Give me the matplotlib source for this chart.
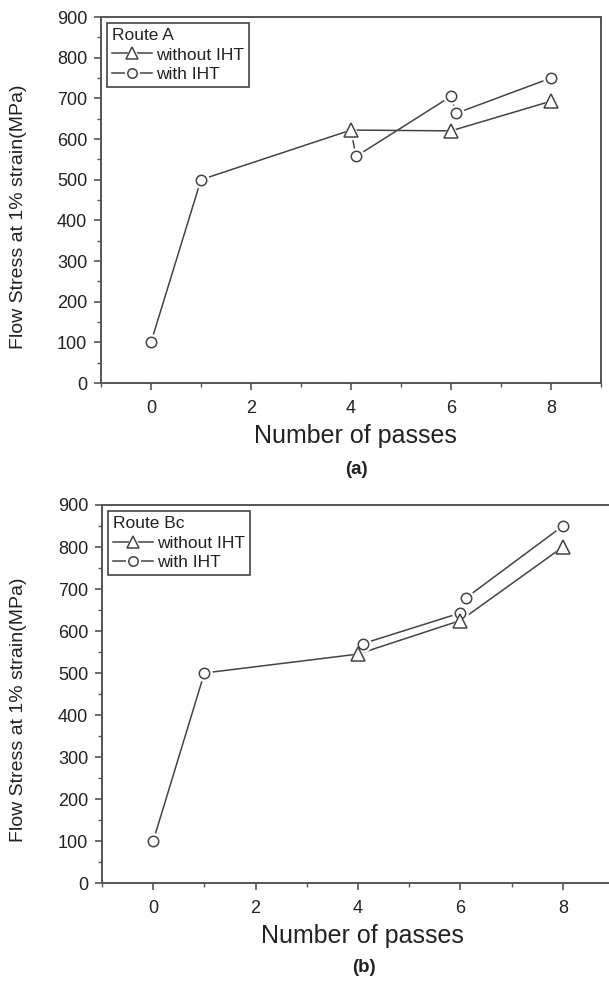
import matplotlib
matplotlib.use("Agg")
import matplotlib.pyplot as plt
from matplotlib.lines import Line2D
from matplotlib.ticker import MultipleLocator
from matplotlib.legend_handler import HandlerTuple

plt.rcParams['font.family'] = ['Liberation Sans', 'DejaVu Sans']

# Route A
a_with_x = [0, 1, 4, 4.1, 6, 6.1, 8]
a_with_y = [100, 500, 622, 557, 705, 663, 750]
a_without_x = [4, 6, 8]
a_without_y = [622, 620, 693]

# Route Bc
b_with_x = [0, 1, 4, 4.1, 6, 6.1, 8]
b_with_y = [100, 500, 545, 570, 643, 678, 850]
b_without_x = [4, 6, 8]
b_without_y = [545, 625, 800]

route_titles = ["Route A", "Route Bc"]
panel_labels = ["(a)", "(b)"]
series_labels = ["without IHT", "with IHT"]
xticks = [0, 2, 4, 6, 8]
yticks = [0, 100, 200, 300, 400, 500, 600, 700, 800, 900]

LC = "#444444"
TC = "#222222"

fig = plt.figure(figsize=(6.09, 9.81), dpi=100)
W, H = 609, 981

def px_axes(l, r, t, b):
    return fig.add_axes([l / W, 1 - b / H, (r - l) / W, (b - t) / H])

ax1 = px_axes(101, 601, 17, 383)
ax2 = px_axes(102, 614, 505, 883)

def draw(ax, wx, wy, nx, ny, title):
    mk_idx = [0, 1, 3, 4, 5, 6]
    ax.plot(wx, wy, color=LC, lw=1.1, zorder=2)
    ax.plot(nx, ny, color=LC, lw=1.1, zorder=2)
    # white halo to give gaps
    ax.plot([wx[i] for i in mk_idx], [wy[i] for i in mk_idx], ls='none', marker='o',
            ms=11, mfc='white', mec='white', zorder=3)
    ax.plot(nx, ny, ls='none', marker='^', ms=13, mfc='white', mec='white', zorder=3)
    ax.plot([wx[i] for i in mk_idx], [wy[i] for i in mk_idx], ls='none', marker='o',
            ms=7.5, mfc='white', mec=LC, mew=1.1, zorder=4)
    ax.plot(nx, ny, ls='none', marker='^', ms=9.5, mfc='white', mec=LC, mew=1.1, zorder=5)

    ax.set_xlim(-1, 9)
    ax.set_ylim(0, 900)
    ax.set_xticks(xticks)
    ax.set_yticks(yticks)
    ax.xaxis.set_minor_locator(MultipleLocator(1))
    ax.yaxis.set_minor_locator(MultipleLocator(50))
    for s in ax.spines.values():
        s.set_color("#555555")
        s.set_linewidth(1.4)
    ax.tick_params(which='major', direction='out', length=5, width=1.2, color="#555555",
                   labelsize=13, labelcolor=TC)
    ax.tick_params(which='minor', direction='out', length=3, width=1.0, color="#555555")
    ax.tick_params(axis='x', which='major', pad=7)
    ax.tick_params(axis='y', which='major', pad=5)

    def hnd(m, ms):
        return (Line2D([], [], color=LC, lw=1.1),
                Line2D([], [], ls='none', marker=m, ms=ms + 3, mfc='white', mec='white'),
                Line2D([], [], ls='none', marker=m, ms=ms, mfc='white', mec=LC, mew=1.1))
    handles = [hnd('^', 8.5), hnd('o', 6.8)]
    leg = ax.legend(handles, series_labels, title=title, loc='upper left',
                    bbox_to_anchor=(0.012, 0.984), borderaxespad=0, fancybox=False,
                    edgecolor="#444444", framealpha=1, fontsize=12.5, title_fontsize=12.5,
                    handlelength=2.3, handletextpad=0.2, borderpad=0.3, labelspacing=0.25,
                    alignment='left',
                    handler_map={tuple: HandlerTuple(ndivide=1, pad=0)})
    leg.get_frame().set_linewidth(1.2)
    leg.get_title().set_color(TC)
    for t in leg.get_texts():
        t.set_color(TC)

draw(ax1, a_with_x, a_with_y, a_without_x, a_without_y, route_titles[0])
draw(ax2, b_with_x, b_with_y, b_without_x, b_without_y, route_titles[1])

ylab = "Flow Stress at 1% strain(MPa)"
fig.text(19 / W, 1 - 217 / H, ylab, rotation=90, ha='center', va='center', fontsize=14, color=TC)
fig.text(19 / W, 1 - 710 / H, ylab, rotation=90, ha='center', va='center', fontsize=14, color=TC)
fig.text(355 / W, 1 - 436 / H, "Number of passes", ha='center', va='center', fontsize=18, color=TC)
fig.text(362 / W, 1 - 936 / H, "Number of passes", ha='center', va='center', fontsize=18, color=TC)
fig.text(356 / W, 1 - 469 / H, panel_labels[0], ha='center', va='center', fontsize=13.5,
         fontweight='bold', color=TC)
fig.text(364 / W, 1 - 968 / H, panel_labels[1], ha='center', va='center', fontsize=13.5,
         fontweight='bold', color=TC)

fig.savefig("out.png", dpi=100)
